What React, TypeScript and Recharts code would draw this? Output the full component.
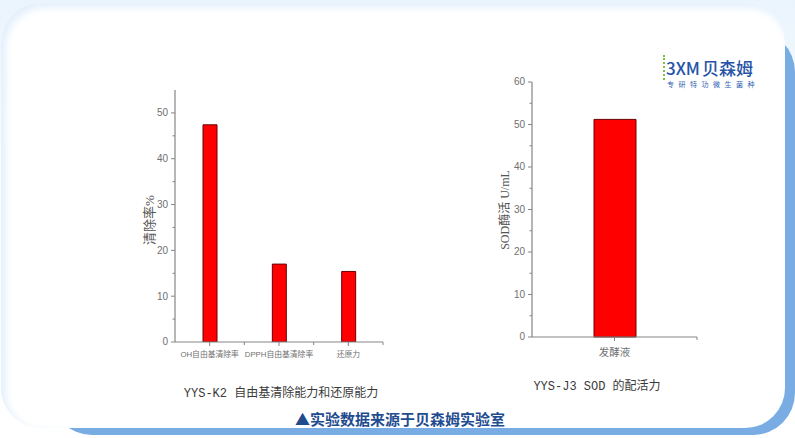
import { Bar, BarChart, XAxis, YAxis } from "recharts";

const radicalCategories = ["OH自由基清除率", "DPPH自由基清除率", "还原力"];
const radicalValues = [47.4, 17.0, 15.4];
const radicalTicks = [0, 5, 10, 15, 20, 25, 30, 35, 40, 45, 50];

const sodCategories = ["发酵液"];
const sodValues = [51.2];
const sodTicks = [0, 5, 10, 15, 20, 25, 30, 35, 40, 45, 50, 55, 60];

const radicalData = radicalCategories.map((name, i) => ({ name, value: radicalValues[i] }));
const sodData = sodCategories.map((name, i) => ({ name, value: sodValues[i] }));

const AXIS = "#858585";
const TICK_TEXT = "#6f6f6f";
const BAR_FILL = "#ff0000";
const BAR_STROKE = "#6b0000";

function ValueTick(props: any) {
  const { x, y, payload } = props;
  const major = payload.value % 10 === 0;
  return (
    <g>
      <line x1={x} x2={x - (major ? 4 : 2.5)} y1={y} y2={y} stroke={AXIS} strokeWidth={1} />
      {major && (
        <text
          x={x - 7}
          y={y}
          dy={3.4}
          textAnchor="end"
          fontSize={10}
          fontFamily="Liberation Sans, Arial, sans-serif"
          fill={TICK_TEXT}
        >
          {payload.value}
        </text>
      )}
    </g>
  );
}

function makeCategoryTick(fontSize: number, labelOffset: number) {
  return function CategoryTick(props: any) {
    const { x, y, payload } = props;
    const off = payload.offset ?? 0;
    return (
      <g>
        <line x1={x} x2={x} y1={y} y2={y + 4} stroke={AXIS} strokeWidth={1} />
        {off > 0 && <line x1={x + off} x2={x + off} y1={y} y2={y + 3} stroke={AXIS} strokeWidth={1} />}
        <text
          x={x}
          y={y + labelOffset}
          textAnchor="middle"
          fontSize={fontSize}
          fontFamily="Liberation Sans, 'Noto Sans CJK SC', sans-serif"
          fill={TICK_TEXT}
        >
          {payload.value}
        </text>
      </g>
    );
  };
}

const RadicalTick = makeCategoryTick(7.8, 15);
const SodTick = makeCategoryTick(10.5, 19);

const titleStyle: React.CSSProperties = {
  position: "absolute",
  fontFamily: "'Liberation Mono', 'Noto Sans CJK SC', monospace",
  fontSize: 12,
  color: "#3a3a3a",
  whiteSpace: "nowrap",
  transform: "translate(-50%, -50%)",
};

const yLabelStyle: React.CSSProperties = {
  position: "absolute",
  fontFamily: "'Liberation Serif', 'Noto Sans CJK SC', serif",
  color: "#555",
  whiteSpace: "nowrap",
  transform: "translate(-50%, -50%) rotate(-90deg)",
};

export default function App() {
  return (
    <div
      style={{
        position: "absolute",
        left: 0,
        top: 0,
        width: 795,
        height: 438,
        overflow: "hidden",
        background: "linear-gradient(#eaf4fd, #f7fbff 30%, #ffffff)",
      }}
    >
      {/* blue backing shape peeking out right and bottom */}
      <div
        style={{
          position: "absolute",
          left: 50,
          top: 30,
          width: 745,
          height: 405,
          borderRadius: 42,
          background: "#78ace3",
        }}
      />
      {/* white card */}
      <div
        style={{
          position: "absolute",
          left: 1,
          top: 3,
          width: 784,
          height: 425,
          borderRadius: 40,
          background: "#ffffff",
          boxShadow: "inset 4px 4px 8px #e0eefc",
        }}
      />

      {/* logo */}
      <div
        style={{
          position: "absolute",
          left: 663,
          top: 58,
          fontFamily: "'Noto Sans CJK SC', sans-serif",
          fontSize: 17,
          fontWeight: 500,
          color: "#2553a6",
          whiteSpace: "nowrap",
          lineHeight: "20px",
        }}
      >
        <span style={{ borderLeft: "2px dotted #7cc242", paddingLeft: 1 }}>3XM</span>
        <span style={{ marginLeft: 2 }}>贝森姆</span>
      </div>
      <div
        style={{
          position: "absolute",
          left: 667,
          top: 79,
          fontFamily: "'Noto Sans CJK SC', sans-serif",
          fontSize: 7,
          color: "#2f5fb0",
          letterSpacing: 4.5,
          whiteSpace: "nowrap",
        }}
      >
        专研特功微生菌种
      </div>

      {/* left chart */}
      <div style={{ position: "absolute", left: 120, top: 80 }}>
        <BarChart
          width={280}
          height={300}
          data={radicalData}
          margin={{ top: 10, right: 17, bottom: 8, left: 10 }}
        >
          <XAxis
            dataKey="name"
            interval={0}
            height={30}
            tickSize={0}
            tickMargin={0}
            stroke={AXIS}
            strokeWidth={1.2}
            tick={<RadicalTick />}
          />
          <YAxis
            width={45}
            domain={[0, 55]}
            ticks={radicalTicks}
            interval={0}
            tickSize={0}
            tickMargin={0}
            stroke={AXIS}
            strokeWidth={1.2}
            tick={<ValueTick />}
            allowDataOverflow
          />
          <Bar
            dataKey="value"
            barSize={14}
            fill={BAR_FILL}
            stroke={BAR_STROKE}
            strokeWidth={1}
            isAnimationActive={false}
          />
        </BarChart>
      </div>
      <div style={{ ...yLabelStyle, left: 148, top: 220, fontSize: 13 }}>清除率%</div>
      <div style={{ ...titleStyle, left: 281, top: 392 }}>YYS-K2 自由基清除能力和还原能力</div>

      {/* right chart */}
      <div style={{ position: "absolute", left: 480, top: 70 }}>
        <BarChart
          width={230}
          height={300}
          data={sodData}
          margin={{ top: 12, right: 13, bottom: 3, left: 12 }}
        >
          <XAxis
            dataKey="name"
            interval={0}
            height={30}
            tickSize={0}
            tickMargin={0}
            stroke={AXIS}
            strokeWidth={1.2}
            tick={<SodTick />}
          />
          <YAxis
            width={40}
            domain={[0, 60]}
            ticks={sodTicks}
            interval={0}
            tickSize={0}
            tickMargin={0}
            stroke={AXIS}
            strokeWidth={1.2}
            tick={<ValueTick />}
          />
          <Bar
            dataKey="value"
            barSize={42}
            fill={BAR_FILL}
            stroke={BAR_STROKE}
            strokeWidth={1}
            isAnimationActive={false}
          />
        </BarChart>
      </div>
      <div style={{ ...yLabelStyle, left: 504, top: 210, fontSize: 12 }}>SOD酶活 U/mL</div>
      <div style={{ ...titleStyle, left: 597, top: 385 }}>YYS-J3 SOD 的配活力</div>

      {/* footer note */}
      <div
        style={{
          position: "absolute",
          left: 400,
          top: 418,
          transform: "translate(-50%, -50%)",
          fontFamily: "'Noto Sans CJK SC', sans-serif",
          fontSize: 15,
          fontWeight: 700,
          color: "#1f4c8f",
          whiteSpace: "nowrap",
        }}
      >
        ▲实验数据来源于贝森姆实验室
      </div>
    </div>
  );
}
